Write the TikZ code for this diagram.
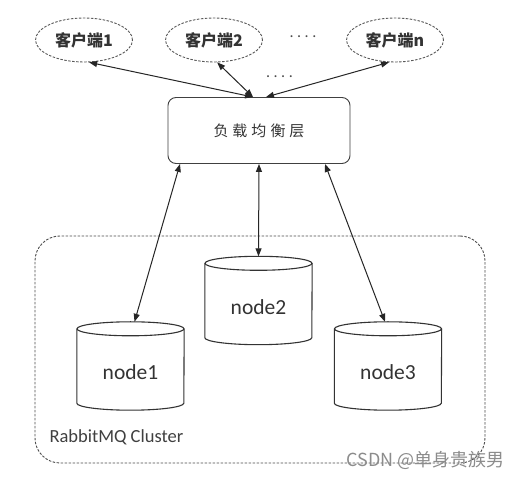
\documentclass[tikz,border=0pt]{standalone}
\usepackage{fontspec}
\setmainfont{Carlito}
\newfontfamily\cjk{Noto Sans CJK SC}
\usetikzlibrary{shapes.geometric,arrows.meta}
\newcommand\mycyl[1]{%
  \draw[cylline] ([yshift=-7pt]#1.north west) -- ([yshift=7pt]#1.south west)
    arc[start angle=180, end angle=360, x radius=53.5pt, y radius=7pt]
    -- ([yshift=-7pt]#1.north east);
  \draw[cylline] ([yshift=-7pt]#1.north) ellipse [x radius=53.5pt, y radius=7pt];
}
\begin{document}
\begin{tikzpicture}[x=1pt,y=-1pt,
  conn/.style={draw=black!85, line width=1pt},
  cylline/.style={draw=black!80, line width=1.1pt},
  dbl/.style={conn, {Triangle[length=8pt,width=6pt]}-{Triangle[length=8pt,width=6pt]}},
  client/.style={ellipse, draw=black!65, dash pattern=on 2.5pt off 1.5pt, line width=0.9pt, minimum width=97pt, minimum height=44pt, inner sep=0pt, text=black!80, font=\cjk\bfseries\fontsize{16}{18}\selectfont},
  lbbox/.style={rectangle, rounded corners=8pt, draw=black!75, line width=0.9pt, minimum width=182pt, minimum height=66pt, text=black!80, font=\cjk\fontsize{15}{17}\selectfont},
  db/.style={rectangle, minimum width=107pt, minimum height=88pt, inner sep=0pt, font=\fontsize{21.5}{25}\selectfont, text=black!80},
  cluster/.style={rectangle, rounded corners=25pt, draw=black!70, dash pattern=on 2.5pt off 1.5pt, line width=0.9pt, minimum width=450pt, minimum height=227pt},
  dots/.style={font=\fontsize{16}{18}\selectfont, text=black!70},
]
\useasboundingbox (0,0) rectangle (523,478);
\fill[white] (0,0) rectangle (523,478);

\node[cluster] (cl) at (260,349.5) {};
\node[anchor=west, font=\fontsize{18.5}{22}\selectfont, text=black!75] (cltext) at (46,437) {RabbitMQ Cluster};

\node[client] (c1) at (84,40) {客户端1};
\node[client] (c2) at (214,40) {客户端2};
\node[client] (cn) at (395,40) {客户端n};
\node[dots] (d1) at (303,37) {.\hspace{3.5pt}.\hspace{3.5pt}.\hspace{3.5pt}.};
\node[dots] (d2) at (279.5,77) {.\hspace{3.5pt}.\hspace{3.5pt}.\hspace{3.5pt}.};

\node[lbbox] (lb) at (259,130.5) {负\hspace{4pt}载\hspace{4pt}均\hspace{4pt}衡\hspace{4pt}层};

\node[db] (n2) at (258.5,300.5) {\raisebox{-14pt}[0pt][0pt]{node2}};
\node[db] (n1) at (130.5,366) {\raisebox{-14pt}[0pt][0pt]{node1}};
\node[db] (n3) at (388,366) {\raisebox{-14pt}[0pt][0pt]{node3}};
\mycyl{n1}
\mycyl{n2}
\mycyl{n3}

\draw[dbl] (c1.-77) -- ([xshift=-6pt]lb.north);
\draw[dbl] (c2.-82) -- ([xshift=-6pt]lb.north);
\draw[dbl] (cn.-105) -- ([xshift=7pt]lb.north);

\draw[dbl] ([xshift=-79pt]lb.south) -- ([xshift=4pt]n1.north);
\draw[dbl] (lb.south) -- (n2.north);
\draw[dbl] ([xshift=66pt]lb.south) -- ([xshift=-3pt]n3.north);

\node[anchor=east, font=\cjk\fontsize{18}{20}\selectfont, text=black!45] (wm) at (508,460) {CSDN @单身贵族男};
\end{tikzpicture}
\end{document}
